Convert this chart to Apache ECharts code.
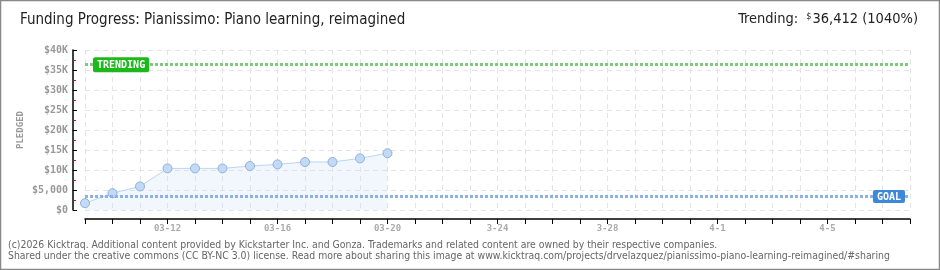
<!DOCTYPE html>
<html><head><meta charset="utf-8">
<script src="https://cdn.jsdelivr.net/npm/echarts@6/dist/echarts.min.js"></script>
<style>html,body{margin:0;padding:0;background:#fff}#c{width:940px;height:270px}</style>
</head><body><div id="c"></div>
<script>
var dateLabels = ["03-09","03-10","03-11","03-12","03-13","03-14","03-15","03-16","03-17","03-18","03-19","03-20",
  "3-21","3-22","3-23","3-24","3-25","3-26","3-27","3-28","3-29","3-30","3-31","4-1","4-2","4-3","4-4","4-5","4-6","4-7","4-8"];
var pledged = [1700, 4200, 5900, 10400, 10400, 10400, 11000, 11400, 12000, 12000, 12900, 14200];
var yTicks = {0:"$0",5000:"$5,000",10000:"$10K",15000:"$15K",20000:"$20K",25000:"$25K",30000:"$30K",35000:"$35K",40000:"$40K"};
var goal = 3500;
var trending = 36412;
var trendingPct = 1040;
var titleText = "Funding Progress: Pianissimo: Piano learning, reimagined";
var footer1 = "(c)2026 Kicktraq. Additional content provided by Kickstarter Inc. and Gonza. Trademarks and related content are owned by their respective companies.";
var footer2 = "Shared under the creative commons (CC BY-NC 3.0) license. Read more about sharing this image at www.kicktraq.com/projects/drvelazquez/pianissimo-piano-learning-reimagined/#sharing";

var chart = echarts.init(document.getElementById('c'), null, {renderer:'canvas'});
var titleFont = "'DejaVu Sans Condensed','Liberation Sans Narrow','DejaVu Sans',sans-serif";
var monoFont = "'DejaVu Sans Mono',monospace";
chart.setOption({
  animation:false,
  backgroundColor:'#fff',
  grid:{left:85, right:30, top:50, bottom:60},
  graphic:[
    {type:'rect', shape:{x:0.5,y:0.5,width:939,height:269}, style:{fill:'none', stroke:'#888', lineWidth:1.5}, silent:true},
    {type:'text', left:20, top:13, style:{text:titleText, font:"15px "+titleFont, fill:'#222'}},
    {type:'text', right:22, top:12, style:{
      text:'Trending: {s|$}' + trending.toLocaleString('en-US') + ' (' + trendingPct + '%)',
      font:"14.5px "+titleFont, fill:'#222',
      rich:{s:{fontSize:9, fontFamily:titleFont, verticalAlign:'top', padding:[0,1,6,4], fill:'#222'}}
    }},
    {type:'text', left:8, top:240, style:{text:footer1, font:"10.4px 'DejaVu Sans Condensed','DejaVu Sans',sans-serif", fill:'#666'}},
    {type:'text', left:8, top:251, style:{text:footer2, font:"10.4px 'DejaVu Sans Condensed','DejaVu Sans',sans-serif", fill:'#666'}},
    {type:'text', x:21, y:130, rotation:Math.PI/2, style:{text:'PLEDGED', font:"bold 9px "+monoFont, fill:'#999', align:'center', verticalAlign:'middle'}}
  ],
  xAxis:{
    type:'category', data:dateLabels, boundaryGap:false, offset:9,
    axisLine:{onZero:false, lineStyle:{color:'#000', width:1.5}},
    axisTick:{show:true, interval:0, length:5, lineStyle:{color:'#000'}},
    axisLabel:{interval:function(i){return i%4===3;}, color:'#aaa', fontSize:9, fontWeight:'bold', fontFamily:monoFont, margin:5},
    splitLine:{show:true, interval:0, lineStyle:{color:'#e4e4e4', type:[5,4]}}
  },
  yAxis:{
    type:'value', min:0, max:40000, interval:5000, offset:12,
    axisLine:{show:true, lineStyle:{color:'#000', width:1.5}},
    axisTick:{show:true, inside:true, length:4, lineStyle:{color:'#000'}},
    minorTick:{show:true, splitNumber:2, length:3, lineStyle:{color:'#e00'}},
    axisLabel:{formatter:function(v){return yTicks[v];}, color:'#999', fontSize:10, fontWeight:'bold', fontFamily:monoFont, margin:5},
    splitLine:{show:true, lineStyle:{color:'#e4e4e4', type:[5,4]}}
  },
  series:[{
    type:'line', data:pledged, symbol:'circle', symbolSize:9,
    lineStyle:{color:'#bcd5f3', width:1},
    itemStyle:{color:'#c3daf6', borderColor:'#8fb1da', borderWidth:1},
    areaStyle:{color:'rgba(205,225,248,0.4)'},
    markLine:{
      silent:true, symbol:['none','none'],
      data:[
        {yAxis:trending, lineStyle:{color:'#7acc7a', width:3, type:[3,2]},
         label:{show:true, formatter:'TRENDING', position:'insideStartTop', distance:[8,-8],
           backgroundColor:'#1cb81c', color:'#fff', fontFamily:monoFont, fontSize:10, fontWeight:'bold', padding:[3,4,2,4], borderRadius:2}},
        {yAxis:goal, lineStyle:{color:'#8ab2e4', width:3, type:[3,2]},
         label:{show:true, formatter:'GOAL', position:'insideEndTop', distance:[5,-7],
           backgroundColor:'#3d88d8', color:'#fff', fontFamily:monoFont, fontSize:10, fontWeight:'bold', padding:[2,4,1,4], borderRadius:2}}
      ]
    }
  }]
});
</script></body></html>
